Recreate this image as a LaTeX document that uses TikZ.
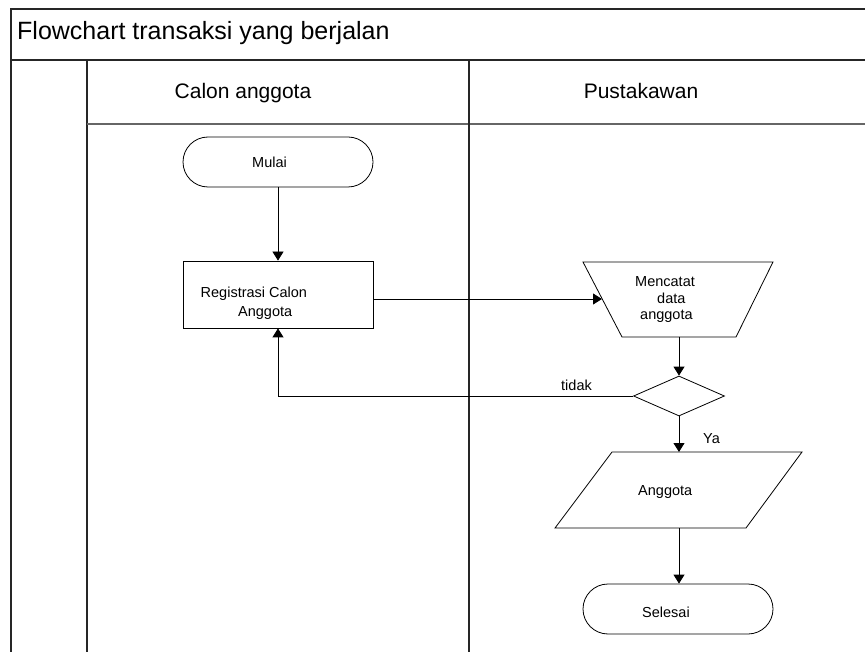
\documentclass[tikz,border=0pt]{standalone}
\usepackage{fontspec}
\setmainfont{Liberation Sans}
\usetikzlibrary{arrows.meta,shapes.geometric,shapes.misc}
\begin{document}
\begin{tikzpicture}[x=1pt,y=-1pt,
  frameline/.style={line width=1.4pt, draw=black!85},
  thinframe/.style={line width=1.2pt, draw=black!60},
  fcbox/.style={draw, line width=0.8pt, inner sep=0pt},
  fcline/.style={draw, line width=0.8pt, line join=miter},
  term/.style={fcbox, rounded rectangle, minimum width=190pt, minimum height=50pt},
  proc/.style={fcbox, rectangle, minimum width=190pt, minimum height=67pt},
  decis/.style={fcbox, diamond, minimum width=91pt, minimum height=40pt},
  txt/.style={font=\fontsize{14.5}{17}\selectfont, inner sep=0pt, anchor=base west},
  arr/.style={line width=0.8pt, -{Triangle[width=11pt,length=9pt]}}
]
\useasboundingbox (0,0) rectangle (865,652);
% frame
\draw[frameline] (865,9) -- (11,9) -- (11,652);
\draw[frameline] (11,60) -- (865,60);
\draw[frameline] (87,60) -- (87,652);
\draw[thinframe] (87,124) -- (865,124);
\draw[frameline] (469,60) -- (469,652);
\node[inner sep=0pt, anchor=base west, font=\fontsize{25}{30}\selectfont] (title) at (17,40) {Flowchart transaksi yang berjalan};
\node[inner sep=0pt, anchor=base, font=\fontsize{21}{25}\selectfont] (lane1) at (243,99) {Calon anggota};
\node[inner sep=0pt, anchor=base, font=\fontsize{21}{25}\selectfont] (lane2) at (641,99) {Pustakawan};
% shapes
\node[term] (mulai) at (278,162) {};
\node[txt] (mulaitxt) at (252,168) {Mulai};
\node[proc] (reg) at (278,294.5) {};
\node[txt] (regtxt1) at (200.5,297.5) {Registrasi Calon};
\node[txt] (regtxt2) at (238,316.5) {Anggota};
% manual operation (trapezium)
\coordinate (trapTL) at (583,262);
\coordinate (trapTR) at (773,262);
\coordinate (trapBR) at (736,337);
\coordinate (trapBL) at (622,337);
\coordinate (trapW) at (602,299);
\coordinate (trapS) at (679,337);
\draw[fcline] (trapTL) -- (trapTR) -- (trapBR) -- (trapBL) -- cycle;
\node[txt] (traptxt1) at (635,287) {Mencatat};
\node[txt] (traptxt2) at (657,304) {data};
\node[txt] (traptxt3) at (640,320) {anggota};
\node[decis] (dec) at (679,396) {};
% data (parallelogram)
\coordinate (parTL) at (612,452);
\coordinate (parTR) at (802,452);
\coordinate (parBR) at (746,528);
\coordinate (parBL) at (555,528);
\coordinate (parN) at (679,452);
\coordinate (parS) at (679,528);
\draw[fcline] (parTL) -- (parTR) -- (parBR) -- (parBL) -- cycle;
\node[txt] (partxt) at (638,495) {Anggota};
\node[term] (sel) at (678,609) {};
\node[txt] (seltxt) at (642,617) {Selesai};
% connectors
\draw[arr] (mulai) -- (reg);
\draw[arr] (reg.east |- trapW) -- (trapW);
\draw[arr] (trapS) -- (dec.north);
\draw[arr] (dec.west) -- (reg.south |- dec.west) -- (reg.south);
\node[txt] (tidak) at (561,390) {tidak};
\draw[arr] (dec.south) -- (parN);
\node[txt] (ya) at (703,443) {Ya};
\draw[arr] (parS) -- (parS |- sel.north);
\end{tikzpicture}
\end{document}
